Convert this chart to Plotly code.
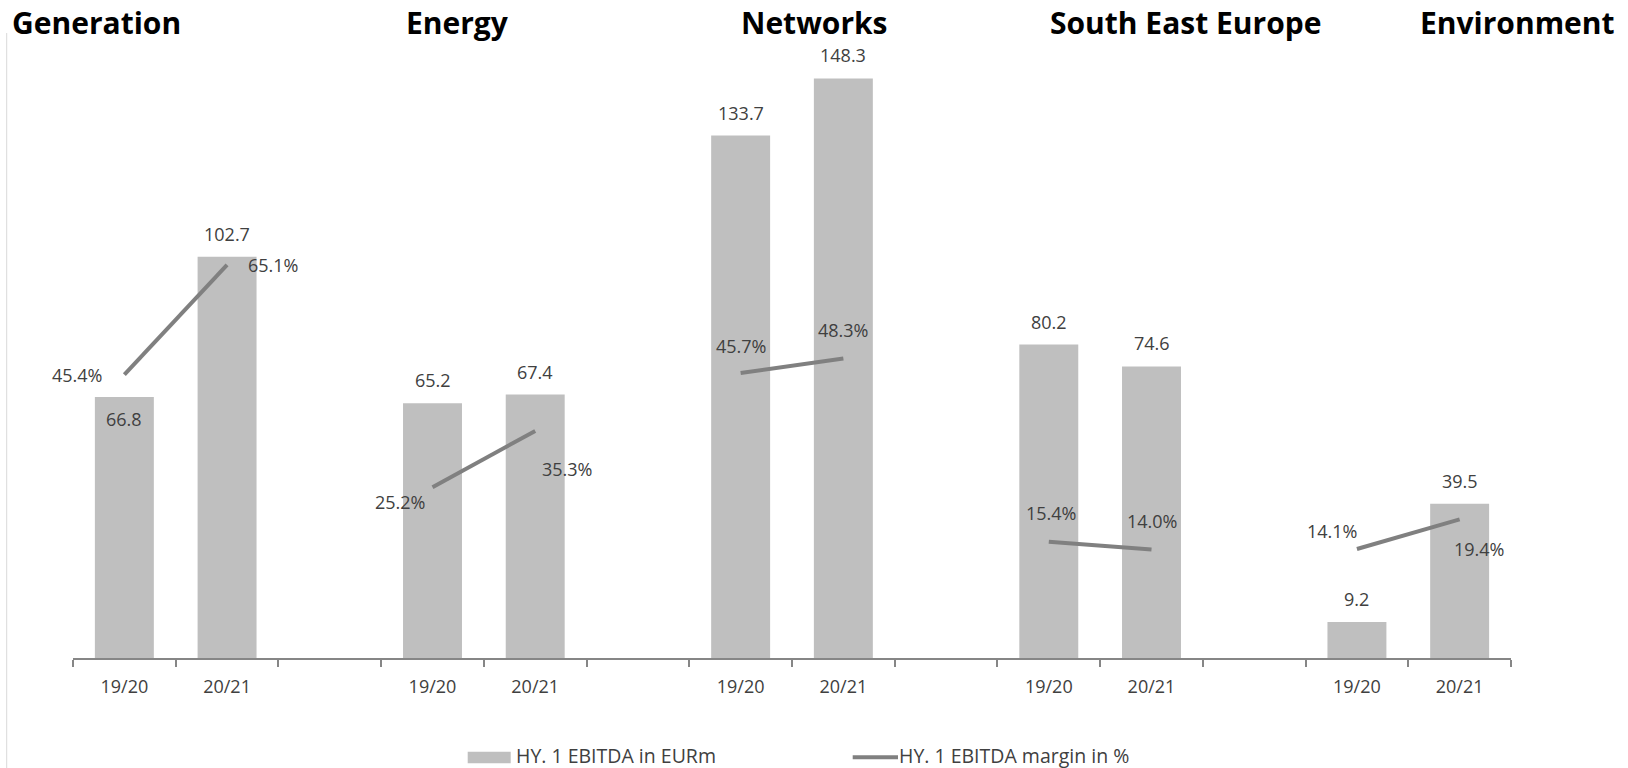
import plotly.graph_objects as go

# ---------------- data ----------------
segments = ["Generation", "Energy", "Networks", "South East Europe", "Environment"]
periods = ["19/20", "20/21"]
ebitda_1920 = [66.8, 65.2, 133.7, 80.2, 9.2]
ebitda_2021 = [102.7, 67.4, 148.3, 74.6, 39.5]
margin_1920 = [45.4, 25.2, 45.7, 15.4, 14.1]
margin_2021 = [65.1, 35.3, 48.3, 14.0, 19.4]
legend_bar = "HY. 1 EBITDA in EURm"
legend_line = "HY. 1 EBITDA margin in %"

# ---------------- geometry / style ----------------
W, H = 1628, 768
ML, MR, MT, MB = 73, 117, 40, 110
PW, PH = W - ML - MR, H - MT - MB
BAR_PX_PER_UNIT = 3.908
LINE_PX_PER_PCT = 5.57
LINE_ZERO_PX_ABOVE_BASE = 30.5

BAR_COLOR = "#bfbfbf"
LINE_COLOR = "#808080"
TEXT_COLOR = "#404040"
AXIS_COLOR = "#868686"
FONT = "Open Sans"

slots = 3  # 19/20, 20/21, spacer
n_cat = slots * len(segments) - 1

# build positions from data indices
bar_x, bar_y = [], []
for i in range(len(segments)):
    for j, vals in enumerate([ebitda_1920, ebitda_2021]):
        bar_x.append(slots * i + j)
        bar_y.append(vals[i])

line_x, line_y = [], []
for i in range(len(segments)):
    line_x += [slots * i, slots * i + 1, None]
    line_y += [margin_1920[i], margin_2021[i], None]

tickvals = [slots * i + j for i in range(len(segments)) for j in range(len(periods))]
ticktext = [periods[j] for i in range(len(segments)) for j in range(len(periods))]

fig = go.Figure()
fig.add_trace(go.Bar(
    x=bar_x, y=bar_y, marker=dict(color=BAR_COLOR, line=dict(width=0)),
    width=0.574, showlegend=False, name=legend_bar, hoverinfo="skip",
))
fig.add_trace(go.Scatter(
    x=line_x, y=line_y, yaxis="y2", mode="lines",
    line=dict(color=LINE_COLOR, width=4), connectgaps=False,
    showlegend=False, name=legend_line, hoverinfo="skip",
))

annotations = []
# bar value labels (above bar; Generation 19/20 sits inside)
bar_label_shift = [-22, 23, 23, 23, 23, 23, 23, 23, 23, 23]
for k, (x, y) in enumerate(zip(bar_x, bar_y)):
    annotations.append(dict(
        x=x, y=y, xref="x", yref="y", text=f"{y:.1f}", showarrow=False,
        yshift=bar_label_shift[k], xanchor="center", yanchor="middle",
        font=dict(family=FONT, size=18, color=TEXT_COLOR),
    ))

# margin labels offsets (xshift, yshift) per point
margin_label_offsets = [(-47, 0), (46, 0), (-33, -15), (32, -38), (0, 27),
                        (0, 28), (2, 29), (0, 29), (-25, 18), (19, -30)]
k = 0
for i in range(len(segments)):
    for j, vals in enumerate([margin_1920, margin_2021]):
        dx, dy = margin_label_offsets[k]
        annotations.append(dict(
            x=slots * i + j, y=vals[i], xref="x", yref="y2",
            text=f"{vals[i]:.1f}%", showarrow=False, xshift=dx, yshift=dy,
            xanchor="center", yanchor="middle",
            font=dict(family=FONT, size=18, color=TEXT_COLOR),
        ))
        k += 1

# segment titles
def px_to_paper_x(px):
    return (px - ML) / PW

def px_to_paper_y(py):
    return (H - MB - py) / PH

title_centers_px = [96, 457.5, 814.5, 1185, 1517]
for name, cx in zip(segments, title_centers_px):
    annotations.append(dict(
        x=px_to_paper_x(cx), y=px_to_paper_y(23), xref="paper", yref="paper",
        text=f"<b>{name}</b>", showarrow=False, xanchor="center", yanchor="middle",
        font=dict(family=FONT, size=30, color="#000000"),
    ))

# manual legend
annotations.append(dict(
    x=px_to_paper_x(515), y=px_to_paper_y(755), xref="paper", yref="paper",
    text=legend_bar, showarrow=False, xanchor="left", yanchor="middle",
    borderpad=0, font=dict(family=FONT, size=19.5, color=TEXT_COLOR),
))
annotations.append(dict(
    x=px_to_paper_x(898), y=px_to_paper_y(755), xref="paper", yref="paper",
    text=legend_line, showarrow=False, xanchor="left", yanchor="middle",
    borderpad=0, font=dict(family=FONT, size=19.5, color=TEXT_COLOR),
))

shapes = [
    dict(type="rect", xref="paper", yref="paper",
         x0=px_to_paper_x(467.7), x1=px_to_paper_x(510.7),
         y0=px_to_paper_y(763.3), y1=px_to_paper_y(751.7),
         fillcolor=BAR_COLOR, line=dict(width=0)),
    dict(type="line", xref="paper", yref="paper",
         x0=px_to_paper_x(852.7), x1=px_to_paper_x(898),
         y0=px_to_paper_y(757.3), y1=px_to_paper_y(757.3),
         line=dict(color=LINE_COLOR, width=4)),
    dict(type="line", xref="paper", yref="paper",
         x0=px_to_paper_x(6.7), x1=px_to_paper_x(6.7),
         y0=px_to_paper_y(33), y1=px_to_paper_y(768),
         line=dict(color="#d9d9d9", width=1)),
]

y2_low = -LINE_ZERO_PX_ABOVE_BASE / LINE_PX_PER_PCT
y2_high = (PH - LINE_ZERO_PX_ABOVE_BASE) / LINE_PX_PER_PCT

fig.update_layout(
    width=W, height=H,
    margin=dict(l=ML, r=MR, t=MT, b=MB, pad=0),
    paper_bgcolor="white", plot_bgcolor="white",
    font=dict(family=FONT, size=18, color=TEXT_COLOR),
    bargap=0.426,
    xaxis=dict(
        range=[-0.5, n_cat - 0.5], tickmode="array", tickvals=tickvals,
        ticktext=ticktext, ticks="", showgrid=False, zeroline=False,
        showline=True, linecolor=AXIS_COLOR, linewidth=2,
        tickfont=dict(family=FONT, size=18, color=TEXT_COLOR),
        ticklabelstandoff=11,
        minor=dict(tickmode="array",
                   tickvals=[b - 0.5 for b in range(n_cat + 1)],
                   ticks="outside", ticklen=7, tickwidth=2, tickcolor=AXIS_COLOR,
                   showgrid=False),
        fixedrange=True,
    ),
    yaxis=dict(range=[0, PH / BAR_PX_PER_UNIT], visible=False, fixedrange=True),
    yaxis2=dict(range=[y2_low, y2_high], overlaying="y", visible=False,
                fixedrange=True),
    annotations=annotations,
    shapes=shapes,
    showlegend=False,
)

fig.write_html("out.html")
